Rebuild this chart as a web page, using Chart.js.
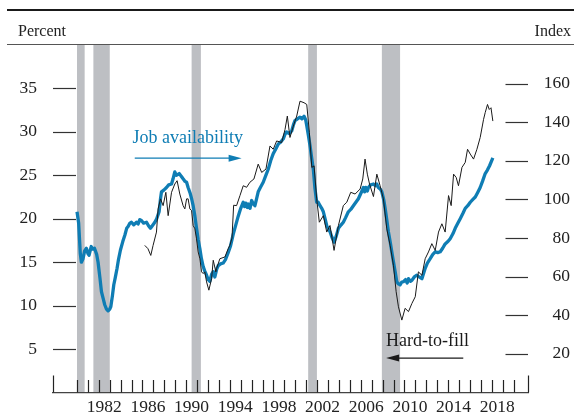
<!DOCTYPE html>
<html><head><meta charset="utf-8">
<script src="https://cdn.jsdelivr.net/npm/chart.js@4/dist/chart.umd.min.js"></script>
<style>html,body{margin:0;padding:0;background:#fff;}#wrap{width:574px;height:419px;position:relative;}</style>
</head><body><div id="wrap"><canvas id="c" width="574" height="419"></canvas></div>
<script>
// Job availability (percent, left axis)
const jobYears = [1980.00,1980.15,1980.3,1980.4,1980.55,1980.7,1980.86,1981.0,1981.1,1981.3,1981.45,1981.6,1981.8,1981.93,1982.1,1982.24,1982.4,1982.54,1982.7,1982.85,1983.0,1983.1,1983.25,1983.37,1983.5,1983.67,1983.8,1983.98,1984.2,1984.38,1984.55,1984.68,1984.85,1984.99,1985.2,1985.45,1985.6,1985.75,1985.9,1986.1,1986.37,1986.55,1986.73,1986.9,1987.13,1987.3,1987.52,1987.65,1987.74,1987.95,1988.2,1988.4,1988.66,1988.8,1988.96,1989.1,1989.36,1989.55,1989.72,1989.9,1990.04,1990.18,1990.35,1990.5,1990.64,1990.8,1990.95,1991.1,1991.25,1991.4,1991.56,1991.7,1991.87,1992.02,1992.17,1992.33,1992.48,1992.63,1992.8,1992.94,1993.15,1993.39,1993.6,1993.85,1994.05,1994.31,1994.55,1994.77,1995.0,1995.23,1995.35,1995.45,1995.6,1995.69,1995.85,1996.0,1996.15,1996.3,1996.45,1996.6,1996.8,1997.06,1997.3,1997.52,1997.75,1997.98,1998.2,1998.44,1998.65,1998.9,1999.05,1999.2,1999.45,1999.67,1999.85,1999.97,2000.2,2000.43,2000.6,2000.8,2000.95,2001.05,2001.2,2001.35,2001.5,2001.65,2001.8,2001.96,2002.1,2002.27,2002.42,2002.57,2002.75,2002.88,2003.05,2003.18,2003.35,2003.55,2003.75,2003.95,2004.2,2004.4,2004.6,2004.86,2005.1,2005.32,2005.55,2005.78,2006.0,2006.24,2006.35,2006.45,2006.6,2006.7,2006.9,2007.16,2007.35,2007.47,2007.6,2007.8,2007.93,2008.1,2008.23,2008.38,2008.53,2008.7,2008.84,2009.0,2009.15,2009.3,2009.45,2009.6,2009.75,2009.9,2010.1,2010.25,2010.37,2010.55,2010.68,2010.9,2011.14,2011.35,2011.6,2011.75,2011.9,2012.1,2012.36,2012.6,2012.82,2013.05,2013.28,2013.5,2013.73,2014.0,2014.19,2014.45,2014.65,2014.9,2015.11,2015.35,2015.57,2015.8,2016.03,2016.25,2016.49,2016.7,2016.94,2017.15,2017.4,2017.6,2017.8,2018.1];
const jobValues = [20.8,19.5,16.0,15.0,15.4,16.3,16.6,16.0,15.8,16.8,16.5,16.6,15.9,15.0,13.2,11.6,10.8,10.1,9.6,9.4,9.6,9.9,11.2,12.4,13.2,14.3,15.3,16.4,17.4,18.1,18.9,19.1,19.5,19.6,19.3,19.6,19.4,19.9,19.8,19.5,19.6,19.2,18.9,19.2,19.6,20.0,20.8,22.3,23.1,23.3,23.6,23.9,24.0,24.6,25.4,25.0,25.2,24.9,24.6,24.3,24.2,23.6,23.0,22.3,21.5,20.3,18.9,17.6,16.6,15.4,14.5,14.0,13.5,13.0,12.8,13.6,13.9,13.3,14.2,14.6,14.8,14.9,15.3,16.1,16.8,18.2,19.3,20.3,21.2,21.9,21.4,21.8,21.3,21.7,21.2,22.1,21.7,21.5,22.3,23.1,23.6,24.2,25.0,25.7,26.7,27.5,28.0,28.6,28.8,29.2,29.7,30.0,29.8,30.1,30.9,31.3,31.5,31.7,31.5,31.8,31.4,30.7,29.6,28.4,27.0,25.7,23.5,21.9,21.9,21.5,21.2,20.8,19.9,19.2,18.8,18.5,17.9,17.3,18.0,18.9,19.3,19.6,20.1,20.8,21.1,21.5,21.9,22.3,22.9,23.6,23.1,23.6,23.2,23.6,23.9,24.0,23.8,24.0,23.6,23.4,23.1,22.2,21.2,19.9,18.5,17.3,16.2,15.0,13.9,12.75,12.5,12.4,12.7,12.75,13.0,12.6,13.1,12.8,12.9,13.3,13.5,13.3,13.1,13.7,14.3,14.9,15.4,15.9,16.2,16.1,16.2,16.6,17.1,17.4,17.7,18.3,18.9,19.5,20.0,20.6,21.2,21.5,21.9,22.2,22.5,23.0,23.6,24.3,25.2,25.6,26.1,27.0];

// Hard-to-fill (index, right axis)
const hardYears = [1986.21,1986.5,1986.76,1986.97,1987.28,1987.43,1987.65,1987.89,1988.14,1988.35,1988.66,1988.96,1989.17,1989.42,1989.72,1989.88,1990.04,1990.18,1990.34,1990.5,1990.64,1990.8,1990.95,1991.1,1991.26,1991.41,1991.56,1991.71,1991.87,1992.08,1992.33,1992.48,1992.72,1992.79,1993.09,1993.55,1993.85,1994.0,1994.2,1994.35,1994.62,1994.93,1995.23,1995.54,1995.84,1996.21,1996.6,1996.92,1997.31,1997.68,1997.98,1998.29,1998.75,1999.06,1999.27,1999.51,1999.82,2000.13,2000.43,2000.8,2001.05,2001.29,2001.51,2001.72,2001.96,2002.2,2002.57,2002.88,2003.18,2003.55,2003.95,2004.4,2004.72,2005.08,2005.48,2005.94,2006.18,2006.39,2006.6,2006.8,2007.16,2007.47,2007.77,2008.07,2008.38,2008.69,2008.99,2009.24,2009.45,2009.76,2010.06,2010.37,2010.68,2010.99,2011.28,2011.6,2011.9,2012.2,2012.51,2012.82,2013.12,2013.43,2013.73,2014.04,2014.28,2014.5,2014.74,2014.95,2015.27,2015.57,2015.78,2016.03,2016.33,2016.64,2016.94,2017.25,2017.4,2017.61,2017.77,2017.93,2018.1];
const hardValues = [76.2,74.5,71.0,76.2,83.1,95.1,100.3,96.8,103.7,91.6,103.7,108.0,109.7,102.8,96.8,95.1,100.3,100.3,95.1,94.2,86.5,84.8,79.6,72.8,69.3,62.5,61.6,62.5,57.3,53.0,59.0,68.5,62.5,64.2,69.3,70.2,74.5,76.2,80.0,97.0,96.8,102.0,107.1,106.3,108.9,110.6,118.3,114.0,115.7,127.7,126.0,130.3,129.5,136.3,143.2,132.1,138.0,143.2,150.9,150.1,149.2,134.6,116.6,117.4,100.3,88.2,91.6,83.1,86.5,73.6,86.5,96.8,98.6,103.7,102.8,105.4,110.6,120.9,113.1,108.0,101.5,113.1,107.1,100.3,84.8,76.2,65.9,52.2,44.4,37.5,43.6,41.9,46.1,49.6,62.5,60.7,69.3,72.8,77.1,73.6,83.1,87.4,83.1,102.0,96.8,113.1,111.4,107.1,116.6,119.2,126.0,123.5,120.9,126.0,132.1,141.5,145.0,149.2,146.6,147.5,140.6];

// Recession shading (start / end, decimal years)
const recessionStarts = [1980.0, 1981.5, 1990.5, 2001.18, 2007.93];
const recessionEnds   = [1980.7, 1983.0, 1991.35, 2001.98, 2009.6];

// Tick labels
const xTickLabels = [1982,1986,1990,1994,1998,2002,2006,2010,2014,2018];
const leftTicks = [5,10,15,20,25,30,35];
const rightTicks = [20,40,60,80,100,120,140,160];

const BLUE = '#0f7db4';
const SERIF = "'Liberation Serif','DejaVu Serif',serif";

const decor = {
  id: 'decor',
  beforeDatasetsDraw(chart) {
    const ctx = chart.ctx, a = chart.chartArea, xs = chart.scales.x;
    ctx.save();
    ctx.fillStyle = '#bdbfc3';
    for (let i = 0; i < recessionStarts.length; i++) {
      const x0 = xs.getPixelForValue(recessionStarts[i]);
      const x1 = xs.getPixelForValue(recessionEnds[i]);
      ctx.fillRect(x0, a.top, x1 - x0, a.bottom - a.top - 0.5);
    }
    ctx.restore();
  },
  afterDatasetsDraw(chart) {
    const ctx = chart.ctx, a = chart.chartArea, xs = chart.scales.x, yl = chart.scales.y, yr = chart.scales.y1;
    ctx.save();
    ctx.strokeStyle = '#222';
    ctx.lineWidth = 1.2;
    for (let yr0 = 1980; yr0 <= 2020; yr0++) {
      const px = Math.round(xs.getPixelForValue(yr0)) + 0.5;
      ctx.beginPath(); ctx.moveTo(px, a.bottom); ctx.lineTo(px, a.bottom - 12.5); ctx.stroke();
    }
    [a.left, a.right].forEach(px => {
      ctx.beginPath(); ctx.moveTo(px + 0.5, a.bottom); ctx.lineTo(px + 0.5, a.bottom - 17); ctx.stroke();
    });
    ctx.strokeStyle = '#333';
    leftTicks.forEach(v => {
      const py = Math.round(yl.getPixelForValue(v)) + 0.5;
      ctx.beginPath(); ctx.moveTo(a.left, py); ctx.lineTo(a.left + 23, py); ctx.stroke();
    });
    rightTicks.forEach(v => {
      const py = Math.round(yr.getPixelForValue(v)) + 0.5;
      ctx.beginPath(); ctx.moveTo(a.right - 22.5, py); ctx.lineTo(a.right, py); ctx.stroke();
    });
    ctx.font = '18px ' + SERIF;
    ctx.textBaseline = 'alphabetic';
    ctx.textAlign = 'left';
    ctx.fillStyle = BLUE;
    ctx.fillText('Job availability', xs.getPixelForValue(1985.08), yl.getPixelForValue(28.67));
    arrow(ctx, xs.getPixelForValue(1985.29), xs.getPixelForValue(1995.08), yl.getPixelForValue(26.97), BLUE);
    ctx.fillStyle = '#1a1a1a';
    ctx.fillText('Hard-to-fill', xs.getPixelForValue(2008.32), yl.getPixelForValue(5.33));
    arrow(ctx, xs.getPixelForValue(2015.39), xs.getPixelForValue(2008.32), yl.getPixelForValue(3.96), '#1a1a1a');
    ctx.restore();
  },
  afterDraw(chart) {
    const ctx = chart.ctx;
    ctx.save();
    ctx.fillStyle = '#1a1a1a';
    ctx.fillRect(7, 9, 567, 2);
    ctx.fillStyle = '#555';
    ctx.fillRect(7, 44, 567, 1);
    ctx.fillStyle = '#222';
    ctx.font = '16px ' + SERIF;
    ctx.textBaseline = 'alphabetic';
    ctx.textAlign = 'left';
    ctx.fillText('Percent', 18, 36);
    ctx.textAlign = 'right';
    ctx.fillText('Index', 571, 36);
    ctx.restore();
  }
};

function arrow(ctx, xFrom, xTo, y, color) {
  const dir = xTo > xFrom ? 1 : -1;
  ctx.save();
  ctx.strokeStyle = color; ctx.fillStyle = color; ctx.lineWidth = 1.3;
  ctx.beginPath(); ctx.moveTo(xFrom, y); ctx.lineTo(xTo - dir * 8, y); ctx.stroke();
  ctx.beginPath();
  ctx.moveTo(xTo, y);
  ctx.lineTo(xTo - dir * 13, y - 3.5);
  ctx.lineTo(xTo - dir * 13, y + 3.5);
  ctx.closePath(); ctx.fill();
  ctx.restore();
}

const tickFont = {family: SERIF, size: 17.5};
const noGrid = {display: false, drawTicks: false, tickLength: 0};

new Chart(document.getElementById('c'), {
  type: 'line',
  data: {
    datasets: [
      {label: 'Hard-to-fill', data: hardYears.map((x, i) => ({x, y: hardValues[i]})), yAxisID: 'y1',
       borderColor: '#1a1a1a', borderWidth: 1, pointRadius: 0, tension: 0, order: 0},
      {label: 'Job availability', data: jobYears.map((x, i) => ({x, y: jobValues[i]})), yAxisID: 'y',
       borderColor: BLUE, borderWidth: 3.3, pointRadius: 0, tension: 0, order: 1, borderJoinStyle: 'round'}
    ]
  },
  options: {
    responsive: false, animation: false, devicePixelRatio: 1,
    layout: {padding: {top: 45, right: 4, left: 0, bottom: 0}},
    plugins: {legend: {display: false}, tooltip: {enabled: false}},
    scales: {
      x: {type: 'linear', position: 'bottom', min: 1977.8, max: 2021.32,
          grid: noGrid, border: {display: true, color: '#444', width: 1.3},
          afterBuildTicks: s => { s.ticks = xTickLabels.map(v => ({value: v + 0.5})); },
          ticks: {autoSkip: false, maxRotation: 0, minRotation: 0, padding: 4, color: '#222', font: tickFont,
                  callback: v => String(Math.floor(v))},
          afterFit: s => { s.height = 24.5; }},
      y: {position: 'left', min: 0, max: 40, grid: noGrid, border: {display: false},
          afterBuildTicks: s => { s.ticks = leftTicks.map(v => ({value: v})); },
          ticks: {padding: 16, color: '#222', font: tickFont},
          afterFit: s => { s.width = 53; }},
      y1: {position: 'right', min: 0, max: 180, grid: noGrid, border: {display: false},
          afterBuildTicks: s => { s.ticks = rightTicks.map(v => ({value: v})); },
          ticks: {padding: 0, crossAlign: 'far', color: '#222', font: tickFont},
          afterFit: s => { s.width = 42; }}
    }
  },
  plugins: [decor]
});
</script></body></html>
